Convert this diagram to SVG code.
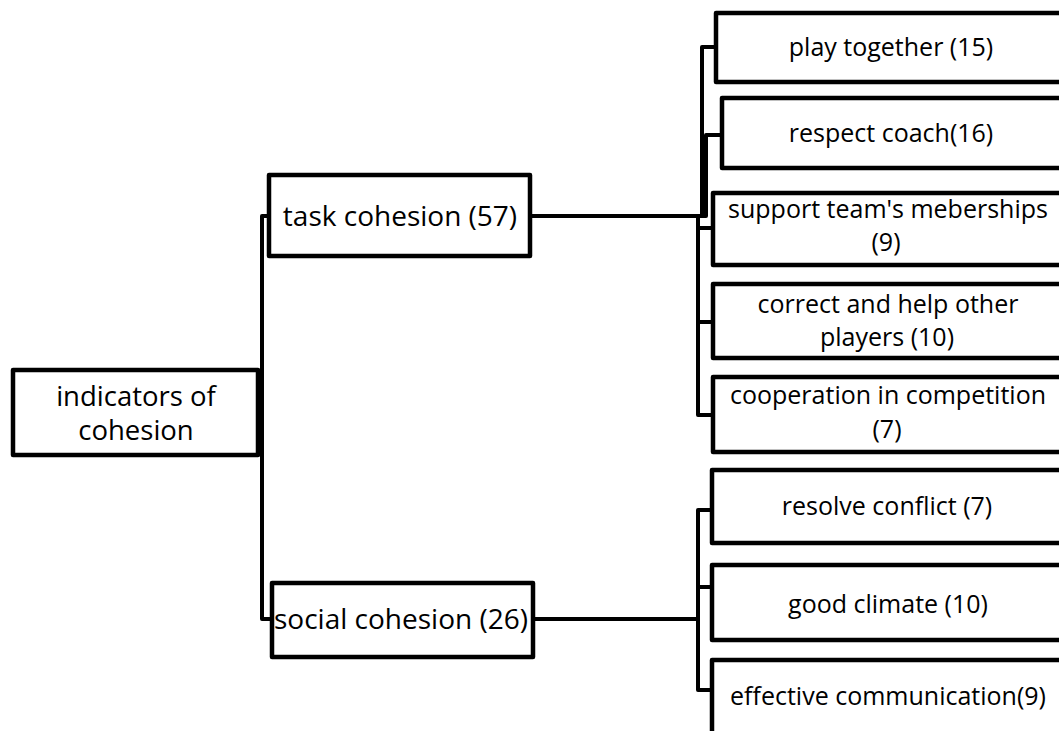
<svg xmlns="http://www.w3.org/2000/svg" width="1059" height="731" viewBox="0 0 1059 731">
<style>
.box{fill:#fff;stroke:#000;stroke-width:4.5;stroke-linejoin:round}
.c{fill:none;stroke:#000;stroke-width:4;stroke-linejoin:round}
text{font-family:"Open Sans","Noto Sans","Liberation Sans",sans-serif;font-size:25px;fill:#000;text-anchor:middle}
text.big{font-size:28px}
</style>
<rect width="1059" height="731" fill="#fff"/>
<g id="connectors">
<path class="c" d="M258,412 H262 V216 H269"/>
<path class="c" d="M258,412 H262 V619 H272"/>
<path class="c" d="M530,216 H702 V47 H716"/>
<path class="c" d="M530,216 H706 V135 H722"/>
<path class="c" d="M530,216 H698 V228 H713"/>
<path class="c" d="M530,216 H698 V322 H713"/>
<path class="c" d="M530,216 H698 V415 H713"/>
<path class="c" d="M533,619 H698 V510 H712"/>
<path class="c" d="M533,619 H698 V587 H712"/>
<path class="c" d="M533,619 H698 V690 H712"/>
</g>
<g id="root"><rect class="box" x="13" y="370" width="245" height="85"/><text class="big" x="136" y="406" style="font-size:27.5px">indicators of</text><text class="big" x="136" y="440" style="font-size:27.5px">cohesion</text></g>
<g id="task"><rect class="box" x="269" y="175" width="261" height="81"/><text class="big" x="400" y="226">task cohesion (57)</text></g>
<g id="social"><rect class="box" x="272" y="583" width="261" height="74"/><text class="big" x="401" y="629">social cohesion (26)</text></g>
<g id="play"><rect class="box" x="716" y="13" width="350" height="69"/><text x="891" y="56">play together (15)</text></g>
<g id="respect"><rect class="box" x="722" y="98" width="350" height="70"/><text x="891" y="142">respect coach(16)</text></g>
<g id="support"><rect class="box" x="713" y="193" width="350" height="72"/><text x="888" y="218">support team's meberships</text><text x="886" y="251">(9)</text></g>
<g id="correct"><rect class="box" x="713" y="284" width="350" height="74"/><text x="888" y="313">correct and help other</text><text x="887" y="346">players (10)</text></g>
<g id="coop"><rect class="box" x="713" y="377" width="350" height="75"/><text x="888" y="404">cooperation in competition</text><text x="887" y="438">(7)</text></g>
<g id="resolve"><rect class="box" x="712" y="470" width="350" height="73"/><text x="887" y="515">resolve conflict (7)</text></g>
<g id="climate"><rect class="box" x="712" y="565" width="350" height="75"/><text x="888" y="613">good climate (10)</text></g>
<g id="effective"><rect class="box" x="712" y="660" width="350" height="90"/><text x="888" y="705">effective communication(9)</text></g>
</svg>
